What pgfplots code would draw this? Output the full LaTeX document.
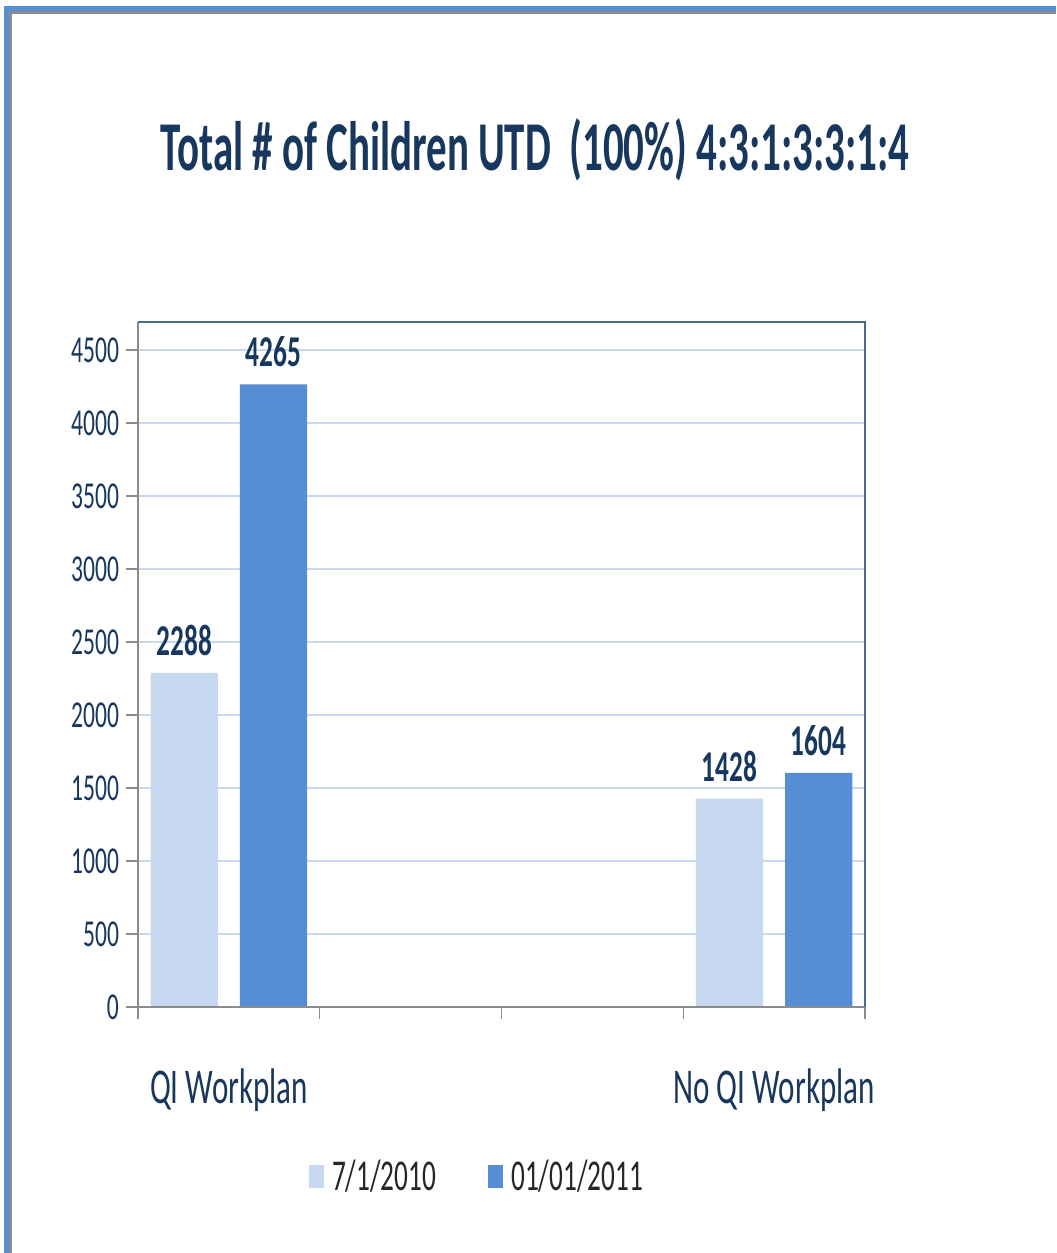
\documentclass[border=0pt]{standalone}
\usepackage{pgfplots}
\pgfplotsset{compat=1.18}
\usepackage{fontspec}
\setmainfont{Carlito}[FakeStretch=0.62]
\newfontfamily\titlefont{Carlito}[FakeStretch=0.585]
\definecolor{lightbar}{HTML}{C6D9F1}
\definecolor{darkbar}{HTML}{558ED5}
\definecolor{navy}{HTML}{17375E}
\definecolor{gridc}{HTML}{C9DAF0}
\definecolor{axgray}{HTML}{8C8C8C}
\definecolor{axblue}{HTML}{4A6A92}
\begin{document}
\begin{tikzpicture}
\useasboundingbox (-69pt,-123pt) rectangle (459pt,503.5pt);
\fill[white] (-69pt,-123pt) rectangle (459pt,503.5pt);
\draw[darkbar, line width=2.5pt] (-65.75pt,-123pt) -- (-65.75pt,499.25pt) -- (459pt,499.25pt);
\draw[axgray, line width=1.5pt] (-63.75pt,-123pt) -- (-63.75pt,497.25pt) -- (459pt,497.25pt);
\begin{axis}[
  at={(0pt,0pt)}, anchor=south west,
  scale only axis, width=363.5pt, height=342.5pt,
  xmin=-0.5, xmax=3.5, ymin=0, ymax=4692,
  axis line style={draw=none},
  ytick={0,500,...,4500},
  ytick pos=left, xtick pos=bottom,
  ymajorgrids, grid style={gridc, line width=0.8pt},
  yticklabel style={font=\fontsize{19}{19}\selectfont, color=navy},
  /pgf/number format/assume math mode=true,
  /pgf/number format/set thousands separator={},
  y tick style={axgray, line width=0.6pt},
  tick align=outside,
  major tick length=6pt,
  xtick={-0.5,0.5,1.5,2.5,3.5},
  xticklabels={},
  x tick style={axgray, line width=0.6pt},
  xticklabel style={font=\fontsize{25}{25}\selectfont, color=navy, yshift=-27.5pt},
  extra x ticks={0,3},
  extra x tick labels={QI Workplan, No QI Workplan},
  extra x tick style={grid=none, major tick length=0pt, tick style={draw=none}},
  ybar, bar width=0.37,
  nodes near coords,
  every node near coord/.append style={font=\bfseries\fontsize{22}{22}\selectfont, color=navy, yshift=5pt},
  legend columns=2,
  legend style={at={(0.4677,-0.248)}, anchor=center, draw=none, fill=none,
    font=\fontsize{22}{22}\selectfont, text=black!85,
    /tikz/every odd column/.append style={column sep=2pt},
    /tikz/every even column/.append style={column sep=24pt}},
  legend image code/.code={\fill[#1] (0pt,-5.75pt) rectangle (7.5pt,5.75pt);},
  clip=false,
]
\addplot[fill=lightbar, draw=none, bar shift=-0.245] coordinates {(0,2288) (3,1428)};
\addplot[fill=darkbar, draw=none, bar shift=0.245] coordinates {(0,4265) (3,1604)};
\legend{7/1/2010, 01/01/2011}
\draw[axgray, line width=0.8pt] (rel axis cs:0,1) -- (rel axis cs:0,0) -- (rel axis cs:1,0);
\draw[axblue, line width=0.8pt] (rel axis cs:0,1) -- (rel axis cs:1,1) -- (rel axis cs:1,0);
\end{axis}
\node[font=\titlefont\bfseries\fontsize{35}{35}\selectfont, color=navy] at (198.5pt,428.5pt) {Total \# of Children UTD\ \ (100\%) 4:3:1:3:3:1:4};
\end{tikzpicture}
\end{document}
